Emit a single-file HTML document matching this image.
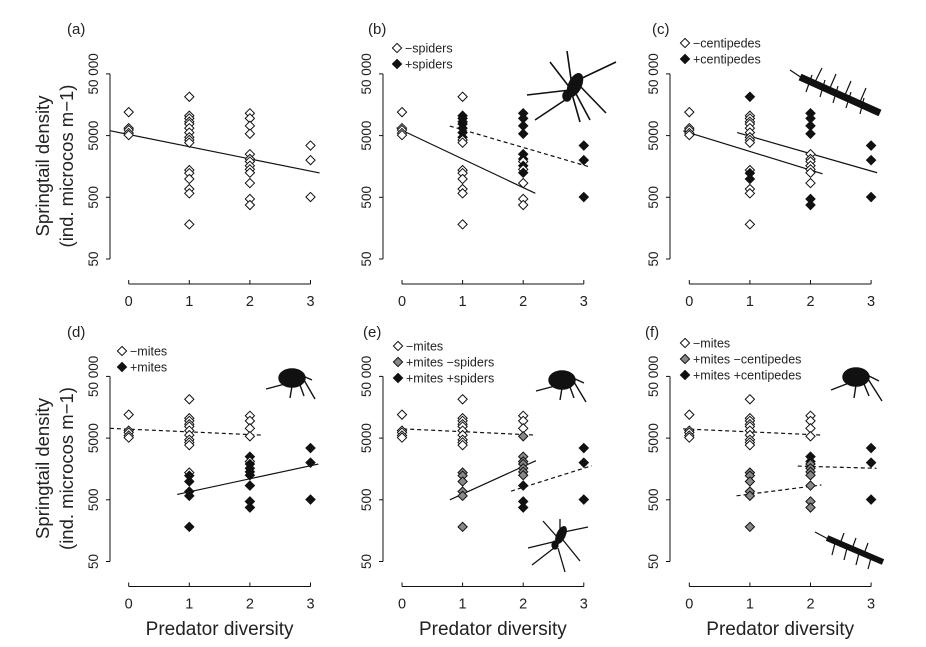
<!DOCTYPE html>
<html><head><meta charset="utf-8"><style>
html,body{margin:0;padding:0;background:#fff}
svg{display:block;font-family:"Liberation Sans",Arial,sans-serif}
</style></head><body>
<svg id="fig" width="926" height="647" viewBox="0 0 926 647">
<!-- silhouettes -->
<g stroke="#111" stroke-width="1.6" fill="#111">
<ellipse cx="575" cy="85" rx="6" ry="12" transform="rotate(25 575 85)"/><ellipse cx="567" cy="96" rx="4" ry="5"/>
<line x1="570" y1="90" x2="527" y2="95"/><line x1="570" y1="88" x2="550" y2="62"/><line x1="572" y1="86" x2="567" y2="51"/><line x1="578" y1="80" x2="616" y2="62"/><line x1="578" y1="84" x2="606" y2="113"/><line x1="572" y1="94" x2="580" y2="122"/><line x1="568" y1="98" x2="535" y2="120"/><line x1="575" y1="92" x2="590" y2="120"/>
</g>
<g stroke="#111" stroke-width="1.2">
<line x1="800" y1="77" x2="880" y2="113" stroke-width="7"/>
<line x1="790" y1="70" x2="805" y2="80"/><line x1="812" y1="75" x2="806" y2="92"/><line x1="825" y1="80" x2="820" y2="97"/><line x1="838" y1="86" x2="833" y2="103"/><line x1="851" y1="92" x2="846" y2="108"/><line x1="864" y1="98" x2="860" y2="114"/><line x1="815" y1="82" x2="822" y2="68"/><line x1="830" y1="88" x2="836" y2="74"/><line x1="845" y1="95" x2="851" y2="81"/><line x1="860" y1="102" x2="866" y2="88"/>
</g>
<g stroke="#111" stroke-width="1.4" fill="#111">
<ellipse cx="292" cy="378" rx="13" ry="9"/><line x1="285" y1="384" x2="266" y2="389"/><line x1="292" y1="386" x2="290" y2="398"/><line x1="300" y1="385" x2="304" y2="396"/><line x1="304" y1="380" x2="315" y2="399"/><line x1="303" y1="376" x2="312" y2="380"/>
</g>
<g stroke="#111" stroke-width="1.4" fill="#111">
<ellipse cx="562" cy="380" rx="13" ry="9"/><line x1="555" y1="386" x2="536" y2="391"/><line x1="562" y1="388" x2="560" y2="400"/><line x1="570" y1="387" x2="574" y2="398"/><line x1="574" y1="382" x2="586" y2="402"/><line x1="573" y1="378" x2="584" y2="383"/>
</g>
<g stroke="#111" stroke-width="1.3" fill="#111">
<ellipse cx="561" cy="535" rx="4" ry="9" transform="rotate(25 561 535)"/><ellipse cx="555" cy="545" rx="3" ry="4"/>
<line x1="557" y1="541" x2="528" y2="548"/><line x1="558" y1="538" x2="543" y2="521"/><line x1="560" y1="535" x2="560" y2="519"/><line x1="564" y1="532" x2="588" y2="527"/><line x1="563" y1="540" x2="580" y2="561"/><line x1="558" y1="548" x2="565" y2="572"/><line x1="554" y1="548" x2="532" y2="565"/>
</g>
<g stroke="#111" stroke-width="1.4" fill="#111">
<ellipse cx="856" cy="377" rx="13" ry="9"/><line x1="849" y1="383" x2="831" y2="390"/><line x1="856" y1="385" x2="854" y2="398"/><line x1="864" y1="384" x2="869" y2="396"/><line x1="868" y1="379" x2="882" y2="401"/><line x1="867" y1="375" x2="879" y2="381"/>
</g>
<g stroke="#111" stroke-width="1.2">
<line x1="827" y1="538" x2="883" y2="562" stroke-width="6"/>
<line x1="815" y1="532" x2="830" y2="540"/><line x1="835" y1="543" x2="832" y2="555"/><line x1="847" y1="548" x2="844" y2="560"/><line x1="859" y1="553" x2="856" y2="565"/><line x1="871" y1="558" x2="868" y2="569"/><line x1="840" y1="544" x2="844" y2="533"/><line x1="852" y1="549" x2="856" y2="538"/><line x1="864" y1="554" x2="868" y2="543"/>
</g>
</svg>
<script>
// shared observations (springtail density per predator-diversity level)
const xLevels = [0, 1, 2, 3];
const col0 = [12000, 6600, 6150, 5500, 5100];
const col1 = [21300, 10500, 9500, 8400, 7700, 6600, 5600, 4700, 4250, 3840, 1380, 1230, 990, 680, 580, 182];
const col2 = [11500, 9500, 7200, 5350, 2500, 2090, 1900, 1620, 1420, 1250, 850, 470, 375];
const col3 = [3450, 2000, 505];
const yTicks = [50, 500, 5000, 50000];
const yTickLabels = ["50", "500", "5000", "50 000"];
// treatment class per point: o = open, b = black, g = grey
const clsA = ["ooooo", "oooooooooooooooo", "ooooooooooooo", "ooo"];
const clsB = ["ooooo", "obbbbbbbooooooo" + "o", "bbbbbbobobooo", "bbb"];
const clsC = ["ooooo", "boooooooooobbooo", "bbbbooooooobbb".slice(0,13), "bbb"];
const clsD = ["ooooo", "oooooooooooobbbbb".slice(1), "oooobobbbbbbb", "bbb"];
const clsE = ["ooooo", "oooooooooogggggg", "oooogggggggbbb".slice(1), "bbb"];
const clsF = ["ooooo", "oooooooooogggggg", "oooobbggggggg", "bbb"];
// fitted lines: [xStart, densityStart, xEnd, densityEnd, dashed]
const linesA = [[-0.31, 6000, 3.15, 1240, 0]];
const linesB = [[-0.09, 6700, 2.2, 580, 0], [0.79, 7150, 3.12, 1530, 1]];
const linesC = [[-0.1, 5950, 2.2, 1200, 0], [0.79, 5600, 3.1, 1250, 0]];
const linesD = [[-0.31, 7200, 2.18, 5600, 1], [0.8, 610, 3.13, 1900, 0]];
const linesE = [[0.02, 7050, 2.2, 5600, 1], [0.79, 500, 2.21, 2150, 0], [1.8, 690, 3.13, 1780, 1]];
const linesF = [[-0.1, 7050, 2.18, 5600, 1], [0.78, 580, 2.18, 870, 1], [1.79, 1760, 3.09, 1620, 1]];

const NS = "http://www.w3.org/2000/svg";
const svg = document.getElementById("fig");
function mk(tag, attrs, parent) {
  const e = document.createElementNS(NS, tag);
  for (const k in attrs) e.setAttribute(k, attrs[k]);
  (parent || svg).appendChild(e);
  return e;
}
const cols = [col0, col1, col2, col3];
const fillOf = {o: "#fff", b: "#111", g: "#888"};
const panels = [
  {id: "a", ax: 110, x0: 128.7, dy: 0, cls: clsA, lines: linesA, lab: [67, 28], ylab: true, leg: []},
  {id: "b", ax: 383, x0: 402, dy: 0, cls: clsB, lines: linesB, lab: [368, 28], leg: [[397, 48, "o", "\u2212spiders"], [397, 64, "b", "+spiders"]]},
  {id: "c", ax: 670, x0: 689.3, dy: 0, cls: clsC, lines: linesC, lab: [652, 28], leg: [[685, 43, "o", "\u2212centipedes"], [685, 59, "b", "+centipedes"]]},
  {id: "d", ax: 110, x0: 128.7, dy: 302.5, cls: clsD, lines: linesD, lab: [67, 331], ylab: true, xlab: true, leg: [[122, 351, "o", "\u2212mites"], [122, 367, "b", "+mites"]]},
  {id: "e", ax: 383, x0: 402, dy: 302.5, cls: clsE, lines: linesE, lab: [363, 331], xlab: true, leg: [[398, 346, "o", "\u2212mites"], [398, 362, "g", "+mites \u2212spiders"], [398, 378, "b", "+mites +spiders"]]},
  {id: "f", ax: 670, x0: 689.3, dy: 302.5, cls: clsF, lines: linesF, lab: [645, 331], xlab: true, leg: [[685, 343, "o", "\u2212mites"], [685, 359, "g", "+mites \u2212centipedes"], [685, 375, "b", "+mites +centipedes"]]}
];
function diamond(cx, cy, c, g) {
  const r = 4.6;
  return mk("polygon", {points: `${cx},${cy-r} ${cx+r},${cy} ${cx},${cy+r} ${cx-r},${cy}`, fill: fillOf[c], stroke: "#111", "stroke-width": 1}, g);
}
panels.forEach(p => {
  const g = mk("g", {});
  
  
  const xs = v => p.x0 + 60.6 * v;
  const ys = v => p.dy + 259 - 61.7 * Math.log10(v / 50);
  // y axis
  const ya = mk("path", {d: `M${p.ax},${ys(50000)}V${ys(50)}`, stroke: "#111", fill: "none"}, g);
  
  
  yTicks.forEach((t, i) => {
    mk("line", {x1: p.ax - 4, x2: p.ax, y1: ys(t), y2: ys(t), stroke: "#111"}, g);
    const tx = mk("text", {x: 0, y: 0, "font-size": 13.5, "text-anchor": "middle", fill: "#222", transform: `translate(${p.ax - 12},${ys(t)}) rotate(-90)`}, g);
    tx.textContent = yTickLabels[i];
    
    
  });
  // x axis
  const xaY = p.dy + 284;
  const xa = mk("path", {d: `M${xs(0)},${xaY}H${xs(3)}`, stroke: "#111", fill: "none"}, g);
  
  
  xLevels.forEach(l => {
    mk("line", {x1: xs(l), x2: xs(l), y1: xaY - 4, y2: xaY, stroke: "#111"}, g);
    const tx = mk("text", {x: xs(l), y: xaY + 22, "font-size": 14.5, "text-anchor": "middle", fill: "#222"}, g);
    tx.textContent = l;
    
    
  });
  const lab = mk("text", {x: p.lab[0], y: p.lab[1] + 6, "font-size": 15, fill: "#222"}, g);
  lab.textContent = "(" + p.id + ")";
  
  
  if (p.ylab) {
    const cy = p.dy + 166;
    const t1 = mk("text", {"font-size": 18.5, "text-anchor": "middle", fill: "#222", transform: `translate(49,${cy}) rotate(-90)`}, g);
    t1.textContent = "Springtail density";
    
    
    const t2 = mk("text", {"font-size": 18.5, "text-anchor": "middle", fill: "#222", transform: `translate(73,${cy}) rotate(-90)`}, g);
    t2.textContent = "(ind. microcos m\u22121)";
    
    
  }
  if (p.xlab) {
    const t = mk("text", {x: xs(1.5), y: 635, "font-size": 19, "text-anchor": "middle", fill: "#222"}, g);
    t.textContent = "Predator diversity";
    
    
  }
  // lines
  p.lines.forEach(L => {
    const ln = mk("line", {x1: xs(L[0]), y1: ys(L[1]), x2: xs(L[2]), y2: ys(L[3]), stroke: "#111", "stroke-width": 1.2, "stroke-dasharray": L[4] ? "4,3" : "none"}, g);
    
    
  });
  // points
  cols.forEach((col, ci) => {
    col.forEach((v, i) => {
      const d = diamond(xs(xLevels[ci]), ys(v), p.cls[ci][i] || "o", g);
      
      
    });
  });
  // legend
  p.leg.forEach(L => {
    const d = diamond(L[0], L[1], L[2], g);
    
    
    const t = mk("text", {x: L[0] + 8, y: L[1] + 4.5, "font-size": 12.5, fill: "#222"}, g);
    t.textContent = L[3];
    
    
  });
});
</script>
</body></html>
